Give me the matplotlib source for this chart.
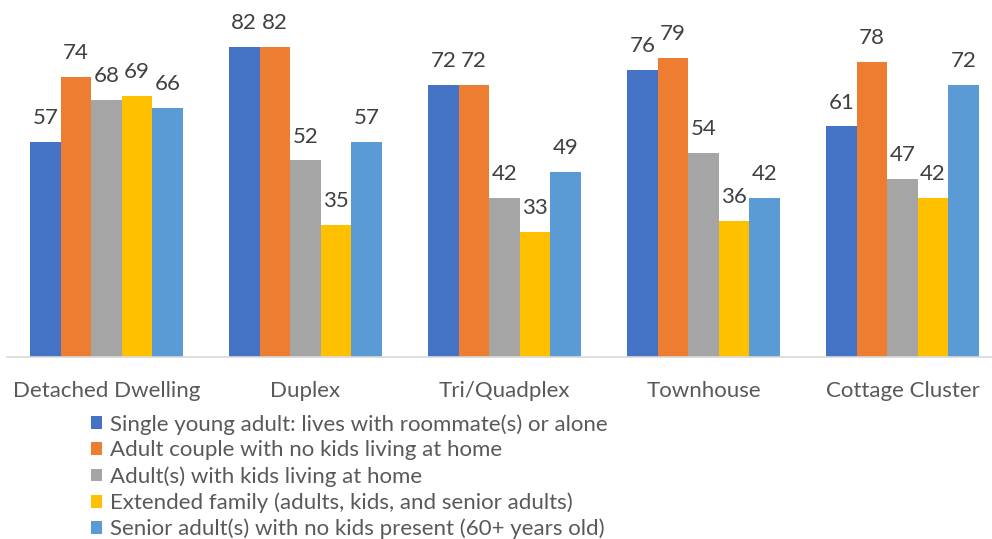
import matplotlib
matplotlib.use("Agg")
import matplotlib.pyplot as plt
import numpy as np

categories = ["Detached Dwelling", "Duplex", "Tri/Quadplex", "Townhouse", "Cottage Cluster"]
series_names = [
    "Single young adult: lives with roommate(s) or alone",
    "Adult couple with no kids living at home",
    "Adult(s) with kids living at home",
    "Extended family (adults, kids, and senior adults)",
    "Senior adult(s) with no kids present (60+ years old)",
]
single_young = [57, 82, 72, 76, 61]
adult_couple = [74, 82, 72, 79, 78]
adults_kids = [68, 52, 42, 54, 47]
extended_family = [69, 35, 33, 36, 42]
senior_adults = [66, 57, 49, 42, 72]
colors = ["#4472C4", "#ED7D31", "#A5A5A5", "#FFC000", "#5B9BD5"]

series = [single_young, adult_couple, adults_kids, extended_family, senior_adults]

plt.rcParams['font.family'] = ['Lato', 'DejaVu Sans']
W, H = 992, 539
fig = plt.figure(figsize=(W / 100, H / 100), dpi=100)
ax = fig.add_axes([7 / W, 1 - 357 / H, 1 - 7 / W, 357 / H])

x = np.arange(len(categories))
bw = 153 / 199 / 5
for j, (vals, name, c) in enumerate(zip(series, series_names, colors)):
    bars = ax.bar(x + (j - 2) * bw, vals, width=bw, color=c, label=name, linewidth=0)
    for b, v in zip(bars, vals):
        ax.annotate(str(v), (b.get_x() + b.get_width() / 2, v), xytext=(0, 10),
                    textcoords="offset points", ha="center", va="bottom",
                    fontsize=16, color="#404040")

ax.set_xlim(-0.5, 4.5 - 10 / 199)
ax.set_ylim(0, 357 / 3.78)
ax.set_xticks(x)
ax.set_xticklabels(categories, fontsize=16, color="#595959")
ax.tick_params(axis="x", length=0, pad=17)
ax.set_yticks([])
for s in ["top", "left", "right"]:
    ax.spines[s].set_visible(False)
ax.spines["bottom"].set_color("#D9D9D9")
ax.spines["bottom"].set_linewidth(1.2)

fig.legend(loc="upper left", bbox_to_anchor=(91 / W, 1 - 414 / H), frameon=False,
           fontsize=16, handlelength=0.5, handleheight=0.5, handletextpad=0.35,
           labelspacing=0.26, borderaxespad=0, borderpad=0, labelcolor="#595959")

fig.savefig("out.png", dpi=100)
